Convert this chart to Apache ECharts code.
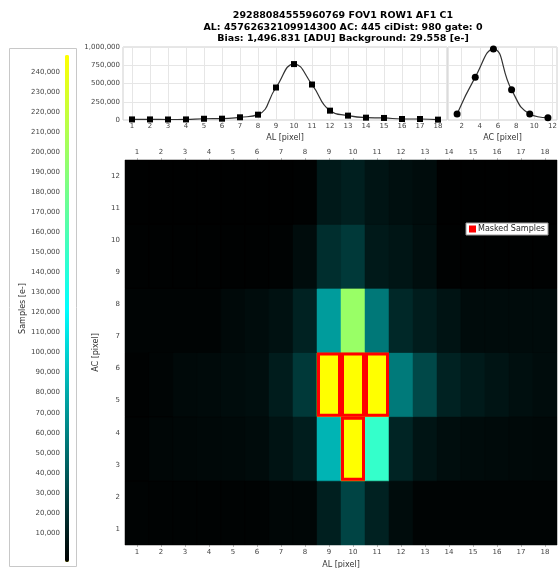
<!DOCTYPE html>
<html><head><meta charset="utf-8">
<script src="https://cdn.jsdelivr.net/npm/echarts@6/dist/echarts.min.js"></script>
<style>html,body{margin:0;padding:0;background:#fff}#c{width:558px;height:568px}</style>
</head><body><div id="c"></div>
<script>
// ---- texts ----
const titleLines = [
  '29288084555960769 FOV1 ROW1 AF1 C1',
  'AL: 45762632109914300 AC: 445 ciDist: 980 gate: 0',
  'Bias: 1,496.831 [ADU] Background: 29.558 [e-]'
];
// ---- axes / categories ----
const alPixels = [1,2,3,4,5,6,7,8,9,10,11,12,13,14,15,16,17,18];
const acPixels = ['1','2','3','4','5','6','7','8','9','10','11','12'];
const acTicks = [2,4,6,8,10,12];
const colorbarTicks = [10000,20000,30000,40000,50000,60000,70000,80000,90000,100000,110000,120000,
  130000,140000,150000,160000,170000,180000,190000,200000,210000,220000,230000,240000];
// ---- profiles ----
const alProfile = [8000,8000,7000,8000,17000,18000,37000,73000,445000,766000,486000,128000,60000,32000,28000,14000,14000,5000];
const acBinCenters = [1.5,3.5,5.5,7.5,9.5,11.5];
const acProfile = [83000,587000,972000,413000,83000,32000];
// ---- heatmap: AC bins (2 pixels each), values per AL pixel ----
const acBinStarts = [1,3,5,7,9,11];
const bin1_2   = [-3000,-3000,-3000,-3000,-3000,-3000,-1500,-1500,11000,29000,12000,1500,-2500,-2500,-2500,-2500,-2500,-2500];
const bin3_4   = [-3000,-1500,-1000,-500,0,1000,5000,10000,85000,290000,148000,13500,5500,2000,1000,500,0,-500];
const bin5_6   = [-3500,-2000,0,500,1500,2500,9500,24000,265000,300000,255000,56000,31000,12500,8500,5500,3000,1500];
const bin7_8   = [-2500,-2500,-2500,-2500,0,1500,4000,12500,73000,198000,55000,15500,9500,5000,1000,1000,1000,1000];
const bin9_10  = [-3500,-3500,-3500,-3500,-3500,-3500,-3000,1500,18500,24000,8000,6000,2500,-3500,-3500,-3500,-3500,-3500];
const bin11_12 = [-4000,-4000,-4000,-4000,-4000,-4000,-4000,-3500,8000,11000,5500,3000,1500,-4000,-4000,-4000,-4000,-4000];
const heatBins = [bin1_2, bin3_4, bin5_6, bin7_8, bin9_10, bin11_12];
// masked samples: [AL pixel, AC bin start]
const maskedCells = [[9,5],[10,5],[11,5],[10,3]];
const colorMin = -4500, colorMax = 248500;

// ---- build series data ----
const alData = alPixels.map((p,i)=>[p, alProfile[i]]);
const acData = acBinCenters.map((p,i)=>[p, acProfile[i]]);
const heatData = [];
heatBins.forEach((row,b)=>{ row.forEach((v,c)=>{ heatData.push([c, acBinStarts[b]-1, v]); }); });
const maskData = maskedCells.map(m=>[m[0]-1, m[1]-1]);

const fmt = v => Math.round(v).toLocaleString('en-US');
const FONT = 'DejaVu Sans';
const lab = {fontFamily: FONT, fontSize: 7, color: '#444'};
const gridLine = {show:true, lineStyle:{color:'#e6e6e6', width:1}};

function cellRect(api, c, r){
  const p0 = api.coord([c, r]);
  const p1 = api.coord([c, r+1]);
  const s = api.size([1,1]);
  return {x: p0[0]-s[0]/2, y: p1[1]-s[1]/2, width: s[0], height: p0[1]-p1[1]+s[1]};
}

const chart = echarts.init(document.getElementById('c'), null, {renderer:'canvas'});
chart.setOption({
  animation: false,
  backgroundColor: '#fff',
  graphic: [
    {type:'text', x:343, y:10, style:{text: titleLines.join('\n'), font:'bold 9.5px "DejaVu Sans"', align:'center', verticalAlign:'top', lineHeight:11.5, fill:'#000'}},
    {type:'rect', shape:{x:9.5, y:48.5, width:67, height:518}, style:{fill:'none', stroke:'#c8c8c8', lineWidth:1}, z:-1}
  ],
  grid: [
    {left:123, top:47, width:324, height:73, show:true, borderColor:'#cfcfcf', borderWidth:1, backgroundColor:'#fff', outerBoundsMode:'none', containLabel:false},
    {left:448, top:47, width:109, height:73, show:true, borderColor:'#cfcfcf', borderWidth:1, backgroundColor:'#fff', outerBoundsMode:'none', containLabel:false},
    {left:125, top:160, width:432, height:385, show:true, borderWidth:0, backgroundColor:'#000', outerBoundsMode:'none', containLabel:false},
    {left:65, top:55, width:4, height:507, show:false, outerBoundsMode:'none', containLabel:false}
  ],
  xAxis: [
    {gridIndex:0, type:'value', min:0.5, max:18.5, name:'AL [pixel]', nameLocation:'middle', nameGap:14,
     nameTextStyle:{fontFamily:FONT, fontSize:8, color:'#333'},
     axisLine:{show:false}, axisTick:{show:false, customValues: alPixels},
     axisLabel:Object.assign({margin:3, customValues: alPixels}, lab), splitLine:gridLine},
    {gridIndex:1, type:'value', min:0.5, max:12.5, name:'AC [pixel]', nameLocation:'middle', nameGap:14,
     nameTextStyle:{fontFamily:FONT, fontSize:8, color:'#333'},
     axisLine:{show:false}, axisTick:{show:false, customValues: acTicks},
     axisLabel:Object.assign({margin:3, customValues: acTicks}, lab), splitLine:gridLine},
    {gridIndex:2, type:'category', data:alPixels.map(String), position:'bottom', name:'AL [pixel]', nameLocation:'middle', nameGap:14,
     nameTextStyle:{fontFamily:FONT, fontSize:8, color:'#333'},
     axisLine:{show:false}, axisTick:{show:true, alignWithLabel:true, length:2, lineStyle:{color:'#bbb'}},
     axisLabel:Object.assign({margin:4}, lab), splitLine:{show:false}},
    {gridIndex:2, type:'category', data:alPixels.map(String), position:'top',
     axisLine:{show:false}, axisTick:{show:true, alignWithLabel:true, length:2, lineStyle:{color:'#bbb'}},
     axisLabel:Object.assign({margin:4}, lab), splitLine:{show:false}},
    {gridIndex:3, type:'value', min:0, max:1, show:false}
  ],
  yAxis: [
    {gridIndex:0, type:'value', min:0, max:1000000, interval:250000,
     axisLine:{show:false}, axisTick:{show:false},
     axisLabel:Object.assign({margin:3, formatter: fmt}, lab), splitLine:gridLine},
    {gridIndex:1, type:'value', min:0, max:1000000, interval:250000,
     axisLine:{show:false}, axisTick:{show:false}, axisLabel:{show:false}, splitLine:gridLine},
    {gridIndex:2, type:'category', data:acPixels, name:'AC [pixel]', nameLocation:'middle', nameGap:15, nameRotate:90,
     nameTextStyle:{fontFamily:FONT, fontSize:8, color:'#333'},
     axisLine:{show:false}, axisTick:{show:false},
     axisLabel:Object.assign({margin:5}, lab), splitLine:{show:false}},
    {gridIndex:3, type:'value', min:colorMin, max:colorMax, name:'Samples [e-]', nameLocation:'middle', nameGap:37, nameRotate:90,
     nameTextStyle:{fontFamily:FONT, fontSize:8, color:'#333'},
     axisLine:{show:false}, axisTick:{show:false, customValues: colorbarTicks},
     axisLabel:Object.assign({margin:5, customValues: colorbarTicks, formatter: fmt}, lab), splitLine:{show:false}}
  ],
  visualMap: {
    type:'continuous', seriesIndex:2, dimension:2, min:colorMin, max:colorMax,
    inRange:{color:['#000000','#00ffff','#ffff00']}, outOfRange:{color:['#ffff00']},
    left:65, top:55, itemWidth:4, itemHeight:507, padding:0,
    calculable:false, hoverLink:false, text:null, orient:'vertical'
  },
  legend: {
    left:466, top:223, data:[{name:'Masked Samples', icon:'rect', itemStyle:{color:'#ff0000', borderWidth:0}}],
    backgroundColor:'#fff', borderColor:'#999', borderWidth:1, padding:[2,3,2,3],
    itemWidth:7, itemHeight:7, selectedMode:false,
    textStyle:{fontFamily:FONT, fontSize:8, color:'#222', padding:[0,0,0,-3]}
  },
  series: [
    {type:'line', xAxisIndex:0, yAxisIndex:0, data:alData, smooth:0.5, symbol:'rect', symbolSize:6,
     itemStyle:{color:'#000'}, lineStyle:{color:'#333', width:1.2}},
    {type:'line', xAxisIndex:1, yAxisIndex:1, data:acData, smooth:0.5, symbol:'circle', symbolSize:7,
     itemStyle:{color:'#000'}, lineStyle:{color:'#333', width:1.2}},
    {type:'custom', name:'Samples', xAxisIndex:2, yAxisIndex:2, data:heatData,
     encode:{x:0, y:1},
     renderItem:function(params, api){
       const r = cellRect(api, api.value(0), api.value(1));
       const col = api.visual('color');
       return {type:'rect', shape:r, style:{fill:col, stroke:col, lineWidth:0.5}};
     }},
    {type:'custom', name:'Masked Samples', xAxisIndex:2, yAxisIndex:2, data:maskData, z:5,
     encode:{x:0, y:1},
     renderItem:function(params, api){
       const r = cellRect(api, api.value(0), api.value(1));
       return {type:'rect', shape:{x:r.x+1.5, y:r.y+1.5, width:r.width-3, height:r.height-3},
               style:{fill:'#ffff00', stroke:'#ff0000', lineWidth:3}};
     }}
  ]
});
</script></body></html>
